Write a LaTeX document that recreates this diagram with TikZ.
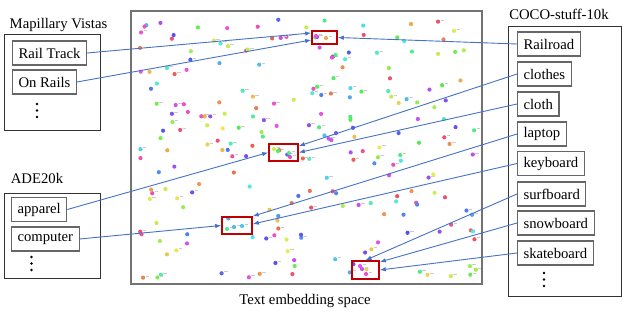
\documentclass[tikz,border=0pt]{standalone}
\usepackage{fontspec}
\setmainfont{Liberation Serif}
\usetikzlibrary{arrows.meta}
\definecolor{cline}{HTML}{4472C4}
\definecolor{cred}{HTML}{C00000}

\begin{document}
\begin{tikzpicture}[x=1pt,y=-1pt,
  itembox/.style={draw=black!60,line width=1.1pt,minimum height=24pt,
    inner xsep=6pt,inner ysep=0pt,anchor=west,font=\fontsize{14.7}{17}\selectfont},
  group/.style={draw=black!80,line width=1pt},
  hit/.style={draw=cred,line width=1.6pt,inner sep=0pt},
  link/.style={cline,line width=0.9pt,-{Latex[length=6pt,width=4.5pt]}},
  title/.style={font=\fontsize{14.7}{17}\selectfont}]
  \useasboundingbox (0,0) rectangle (623,318);

  % scattered embeddings
  \pgfmathsetseed{42}
  \foreach \i in {1,...,230}{
    \pgfmathsetmacro{\px}{138+338*rnd}
    \pgfmathsetmacro{\py}{16+262*rnd}
    \pgfmathsetmacro{\hh}{int(360*rnd)}
    \pgfmathsetmacro{\tg}{rnd}
    \definecolor{dotc}{Hsb}{\hh,0.65,0.92}
    \fill[dotc] (\px,\py) circle (2.1pt);
    \ifdim\tg pt<0.4pt \draw[black!20,line width=0.9pt] (\px+2.5,\py-1.5) -- ++(3.5,0); \fi
  }
  % points inside the marked regions
  \foreach \px/\py/\hh in {317/37/270,326/38/35,316/36/300,
      274/149/70,278/151/130,289/153/150,290/157/320,
      227/229/150,234/227/200,242/226/195,
      360/266/300,362/269/290,366/274/310}{
    \definecolor{dotc}{Hsb}{\hh,0.65,0.92}
    \fill[dotc] (\px,\py) circle (2.1pt);
    \draw[black!20,line width=0.9pt] (\px+2.5,\py-1.5) -- ++(3.5,0);
  }

  \node[draw=black!55,line width=2pt,minimum width=351pt,minimum height=273pt] (space) at (306,147.5) {};
  \node[title] (caption) at (305,301) {Text embedding space};

  \node[hit,minimum width=25pt,minimum height=13pt] (rb1) at (324.5,37.5) {};
  \node[hit,minimum width=29pt,minimum height=17pt] (rb2) at (283.5,152.5) {};
  \node[hit,minimum width=30pt,minimum height=17pt] (rb3) at (237,225.5) {};
  \node[hit,minimum width=27pt,minimum height=18pt] (rb4) at (365.5,270) {};

  % Mapillary Vistas
  \node[title] (mvtitle) at (58.5,25) {Mapillary Vistas};
  \draw[group] (4,35) rectangle (100,130);
  \node[itembox] (railtrack) at (12,53) {Rail Track};
  \node[itembox] (onrails) at (12,82) {On Rails};
  \foreach \y in {104,110.5,117} \fill (37,\y) circle (1.4pt);

  % ADE20k
  \node[title] (adetitle) at (37,178) {ADE20k};
  \draw[group] (4,193) rectangle (100,278);
  \node[itembox] (apparel) at (11,209.5) {apparel};
  \node[itembox] (computer) at (11,239) {computer};
  \foreach \y in {257,263.5,270} \fill (31.5,\y) circle (1.4pt);

  % COCO-stuff-10k
  \node[title] (cocotitle) at (559,14) {COCO-stuff-10k};
  \draw[group] (508,27) rectangle (621.5,296);
  \node[itembox] (railroad) at (517,44) {Railroad};
  \node[itembox] (clothes) at (517,74) {clothes};
  \node[itembox] (cloth) at (517,104) {cloth};
  \node[itembox] (laptop) at (517,134) {laptop};
  \node[itembox] (keyboard) at (517,163.5) {keyboard};
  \node[itembox] (surfboard) at (517,194) {surfboard};
  \node[itembox] (snowboard) at (517,223) {snowboard};
  \node[itembox] (skateboard) at (517,253) {skateboard};
  \foreach \y in {273,279.5,286} \fill (544,\y) circle (1.4pt);

  \draw[link] (railtrack.east) -- ([yshift=4.5pt]rb1.west);
  \draw[link] (onrails.east) -- ([yshift=-2.5pt]rb1.west);
  \draw[link] (railroad.west) -- (rb1.east);
  \draw[link] (clothes.west) -- ([yshift=6.5pt]rb2.east);
  \draw[link] (cloth.west) -- (rb2.east);
  \draw[link] (apparel.east) -- (rb2.west);
  \draw[link] (computer.east) -- (rb3.west);
  \draw[link] (laptop.west) -- (rb3.north east);
  \draw[link] (keyboard.west) -- ([yshift=1.5pt]rb3.east);
  \draw[link] (surfboard.west) -- (rb4.north);
  \draw[link] (snowboard.west) -- ([yshift=8pt]rb4.east);
  \draw[link] (skateboard.west) -- (rb4.east);
\end{tikzpicture}
\end{document}
